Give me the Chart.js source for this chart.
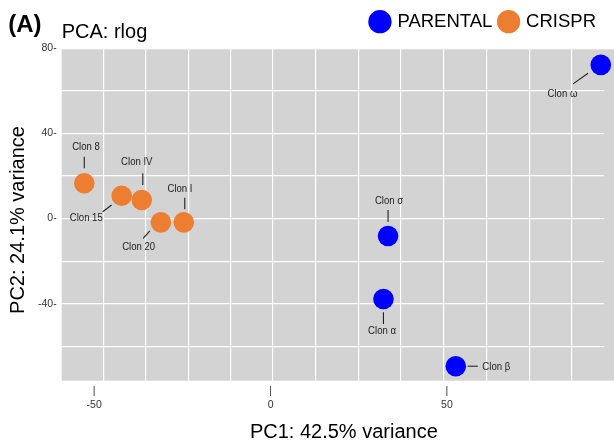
<!DOCTYPE html>
<html><head><meta charset="utf-8">
<script src="https://cdn.jsdelivr.net/npm/chart.js@4.4.1/dist/chart.umd.min.js"></script>
<style>html,body{margin:0;padding:0;background:#fff;overflow:hidden}#wrap{width:614px;height:440px;position:relative}</style>
</head><body><div id="wrap"><canvas id="c" width="614" height="440"></canvas></div>
<script>
// ---- data ----
const sampleNames = ['Clon 8','Clon 15','Clon IV','Clon 20','Clon I','Clon σ','Clon α','Clon β','Clon ω'];
const sampleGroups = ['CRISPR','CRISPR','CRISPR','CRISPR','CRISPR','PARENTAL','PARENTAL','PARENTAL','PARENTAL'];
const pc1 = [-52.8,-42.2,-36.5,-31.1,-24.6,33.3,32.0,52.5,93.6];
const pc2 = [16.5,10.7,8.7,-1.8,-1.8,-8.2,-37.7,-69.2,72.0];
const groupNames = ['PARENTAL','CRISPR'];
const groupColors = ['#0000FF','#ED7D31'];
const xTickValues = [-50,0,50];
const yTickValues = [-40,0,40,80];
const xGridValues = [-47.4,-35.3,-23.3,-11.3,0.7,12.8,24.9,37.0,49.1,61.2,73.3,85.4];
const yGridValues = [-60,-40,-20,0,20,40,60];
const xRange = [-59.2, 94.43];
const yRange = [-76.0, 79.3];
const titleText = 'PCA: rlog';
const panelTag = '(A)';
const xTitle = 'PC1: 42.5% variance';
const yTitle = 'PC2: 24.1% variance';

// label placement (px offsets relative to each point): text centre, leader line
const labelPlacement = {
  'Clon 8':  {tx:1.7,  ty:-36,   l:[0,-26.6,0,-15]},
  'Clon 15': {tx:-35.4,ty:22.6,  l:[-19,16,-10,9.3]},
  'Clon IV': {tx:-5,   ty:-38.3, l:[1,-26.7,1,-15]},
  'Clon 20': {tx:-22.2,ty:24.4,  l:[-17.7,16,-11,8.4]},
  'Clon I':  {tx:-3.8, ty:-33.3, l:[1,-24.6,1,-13]},
  'Clon σ':  {tx:1,    ty:-35,   l:[0,-26,0,-14]},
  'Clon α':  {tx:-1.4, ty:31.7,  l:[0,13.3,0,25]},
  'Clon β':  {tx:40.5, ty:1,     l:[12,0,22,0]},
  'Clon ω':  {tx:-38.3,ty:29,    l:[-27.7,19,-12.7,8.3]}
};

const mainFamily = "'Liberation Sans', Arial, sans-serif";

const datasets = groupNames.map((g, gi) => ({
  label: g,
  data: sampleNames.map((n, i) => ({x: pc1[i], y: pc2[i], name: n, g: sampleGroups[i]})).filter(p => p.g === g),
  backgroundColor: groupColors[gi],
  borderColor: groupColors[gi],
  borderWidth: 0,
  pointRadius: 10.3,
  pointStyle: 'circle',
  clip: false
}));

const bgPlugin = {
  id: 'bg',
  beforeDraw(chart) {
    const {ctx, chartArea: a} = chart;
    ctx.save();
    ctx.fillStyle = '#d3d3d3';
    ctx.fillRect(a.left, a.top, chart.width - a.left, a.bottom - a.top);
    ctx.restore();
  },
  afterLayout(chart) {
    chart.scales.x.right += 22.3;
    chart.scales.y.top += 10;
  },
  afterDraw(chart) {
    const ctx = chart.ctx;
    ctx.save();
    ctx.fillStyle = '#000';
    ctx.textBaseline = 'alphabetic';
    ctx.textAlign = 'left';
    ctx.font = "bold 24px " + mainFamily;
    ctx.fillText(panelTag, 8.3, 32);
    ctx.font = "20px " + mainFamily;
    ctx.fillText(titleText, chart.chartArea.left, 37.6);
    ctx.restore();
  }
};

const labelPlugin = {
  id: 'pointLabels',
  afterDatasetsDraw(chart) {
    const ctx = chart.ctx;
    ctx.save();
    ctx.font = "11px " + mainFamily;
    ctx.fillStyle = '#222';
    ctx.strokeStyle = '#222';
    ctx.lineWidth = 1.1;
    ctx.textAlign = 'center';
    ctx.textBaseline = 'middle';
    chart.data.datasets.forEach((ds, di) => {
      const meta = chart.getDatasetMeta(di);
      meta.data.forEach((el, i) => {
        const name = ds.data[i].name;
        const p = labelPlacement[name];
        if (!p) return;
        ctx.beginPath();
        ctx.moveTo(el.x + p.l[0], el.y + p.l[1]);
        ctx.lineTo(el.x + p.l[2], el.y + p.l[3]);
        ctx.stroke();
        const cx = el.x + p.tx, cy = el.y + p.ty;
        ctx.save();
        ctx.translate(cx, cy);
        ctx.scale(0.87, 1);
        ctx.fillText(name, 0, 0);
        ctx.restore();
      });
    });
    ctx.restore();
  }
};

new Chart(document.getElementById('c'), {
  type: 'scatter',
  data: {datasets},
  plugins: [bgPlugin, labelPlugin],
  options: {
    responsive: false,
    animation: false,
    devicePixelRatio: 1,
    events: [],
    layout: {padding: {top: 4.45, left: 0, right: 10, bottom: 0}},
    plugins: {
      tooltip: {enabled: false},
      title: {display: false},
      legend: {
        position: 'top',
        align: 'end',
        labels: {
          usePointStyle: true,
          pointStyle: 'circle',
          boxWidth: 16.5,
          boxHeight: 16.5,
          padding: 8,
          color: '#000',
          font: {family: mainFamily, size: 18.5}
        }
      }
    },
    scales: {
      x: {
        type: 'linear', position: 'bottom',
        min: xRange[0], max: xRange[1],
        afterBuildTicks: s => { s.ticks = xTickValues.map(v => ({value: v})); },
        afterFit: s => { s.height = 59.3; },
        grid: {display: false, drawTicks: false},
        border: {display: false},
        ticks: {
          padding: 4,
          color: '#333',
          font: {family: mainFamily, size: 10.5, lineHeight: 1.3},
          callback: v => ['|', String(v)]
        },
        title: {display: true, text: xTitle, color: '#000', padding: {top: 0, bottom: -4},
          font: {family: mainFamily, size: 20, lineHeight: 1.2}}
      },
      x2: {
        type: 'linear', position: 'top',
        min: xRange[0], max: xRange[1],
        afterBuildTicks: s => { s.ticks = xGridValues.map(v => ({value: v})); },
        afterFit: s => { s.height = 8.35; },
        grid: {display: true, color: '#ffffff', lineWidth: 1.2, drawTicks: false},
        border: {display: false},
        ticks: {display: false}
      },
      y: {
        type: 'linear', position: 'left',
        min: yRange[0], max: yRange[1],
        afterBuildTicks: s => { s.ticks = yTickValues.map(v => ({value: v})); },
        afterFit: s => { s.width = 61.7; },
        grid: {display: false, drawTicks: false},
        border: {display: false},
        ticks: {
          padding: 5,
          color: '#333',
          font: {family: mainFamily, size: 10.5},
          callback: v => v + '-'
        },
        title: {display: true, text: yTitle, color: '#000', padding: {top: 6.3, bottom: 0},
          font: {family: mainFamily, size: 20, lineHeight: 1.2}}
      },
      y2: {
        type: 'linear', position: 'right',
        min: yRange[0], max: yRange[1],
        afterBuildTicks: s => { s.ticks = yGridValues.map(v => ({value: v})); },
        afterFit: s => { s.width = 0; },
        grid: {display: true, color: '#ffffff', lineWidth: 1.2, drawTicks: false},
        border: {display: false},
        ticks: {display: false}
      }
    }
  }
});
</script></body></html>
